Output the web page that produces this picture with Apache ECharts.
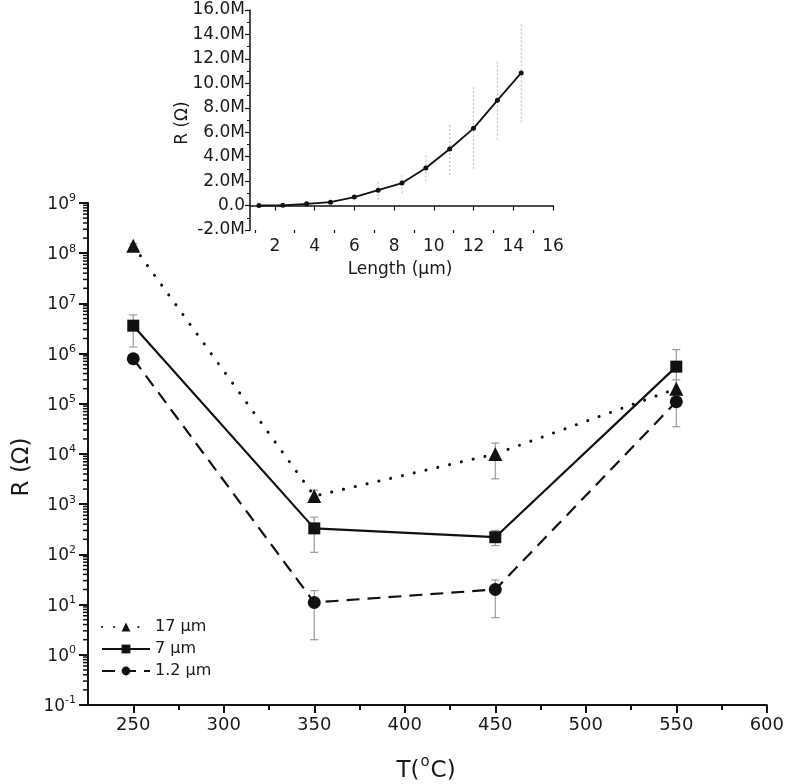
<!DOCTYPE html>
<html>
<head>
<meta charset="utf-8">
<script src="https://cdn.jsdelivr.net/npm/echarts@6/dist/echarts.min.js"></script>
<style>html,body{margin:0;padding:0;background:#fff}#c{width:787px;height:784px}</style>
</head>
<body>
<div id="c"></div>
<script>
// ---------- main chart data ----------
const temps = [250, 350, 450, 550];
const r17 = [1.4e8, 1.45e3, 1.0e4, 2.0e5];
const r7 = [3.6e6, 330, 220, 5.5e5];
const r12 = [7.9e5, 11, 20, 1.1e5];
const err17Low = [1.25e8, 1.1e3, 3.2e3, 1.0e5];
const err17High = [1.55e8, 1.9e3, 1.65e4, 3.0e5];
const err7Low = [1.35e6, 110, 150, 1.5e5];
const err7High = [5.9e6, 550, 300, 1.2e6];
const err12Low = [7.0e5, 2, 5.5, 3.5e4];
const err12High = [9.0e5, 19, 31, 1.8e5];
const seriesNames = ['17 µm', '7 µm', '1.2 µm'];
const xMajorTicks = [250, 300, 350, 400, 450, 500, 550, 600];
const xMinorTicks = [275, 325, 375, 425, 475, 525, 575];

// ---------- inset data ----------
const lengths = [1.2, 2.4, 3.6, 4.8, 6.0, 7.2, 8.4, 9.6, 10.8, 12.0, 13.2, 14.4];
const rInset = [0.005e6, 0.02e6, 0.14e6, 0.28e6, 0.69e6, 1.26e6, 1.84e6, 3.07e6, 4.63e6, 6.32e6, 8.61e6, 10.85e6];
const insetErrLow = [0, 0, 0.1e6, 0.2e6, 0.5e6, 0.47e6, 1.0e6, 1.96e6, 2.5e6, 2.98e6, 5.4e6, 6.8e6];
const insetErrHigh = [0.01e6, 0.04e6, 0.18e6, 0.36e6, 0.9e6, 1.96e6, 2.65e6, 4.15e6, 6.6e6, 9.7e6, 11.9e6, 14.9e6];
const insetXMajor = [2, 4, 6, 8, 10, 12, 14, 16];
const insetXMinor = [1, 3, 5, 7, 9, 11, 13, 15];

const FONT = 'DejaVu Sans';
const zip = (xs, ys) => xs.map((x, i) => [x, ys[i]]);
const zip3 = (xs, a, b) => xs.map((x, i) => [x, a[i], b[i]]);

// minor log ticks positions (2..9 x 10^n)
const logMinor = [];
for (let n = -1; n < 9; n++) for (let k = 2; k <= 9; k++) logMinor.push([225, k * Math.pow(10, n)]);

function errRender(color, dash, cap) {
  return function (params, api) {
    const x = api.value(0);
    const lo = api.coord([x, api.value(1)]);
    const hi = api.coord([x, api.value(2)]);
    const st = {stroke: color, lineWidth: 1.2, lineDash: dash};
    const children = [{type: 'line', shape: {x1: lo[0], y1: lo[1], x2: hi[0], y2: hi[1]}, style: st}];
    if (cap > 0) {
      children.push({type: 'line', shape: {x1: lo[0] - cap, y1: lo[1], x2: lo[0] + cap, y2: lo[1]}, style: {stroke: color, lineWidth: 1.2}});
      children.push({type: 'line', shape: {x1: hi[0] - cap, y1: hi[1], x2: hi[0] + cap, y2: hi[1]}, style: {stroke: color, lineWidth: 1.2}});
    }
    return {type: 'group', children: children};
  };
}

const chart = echarts.init(document.getElementById('c'));
const axisColor = '#111';
chart.setOption({
  animation: false,
  backgroundColor: '#fff',
  textStyle: {fontFamily: FONT},
  grid: [
    {left: 88, top: 203, width: 680, height: 502},
    {left: 250, top: 10, width: 303, height: 220}
  ],
  xAxis: [
    {gridIndex: 0, type: 'value', min: 225, max: 600, position: 'bottom',
      axisLine: {lineStyle: {color: axisColor, width: 2}},
      axisTick: {customValues: xMajorTicks, length: 8, lineStyle: {color: axisColor, width: 2}},
      axisLabel: {customValues: xMajorTicks, fontSize: 18, color: '#1a1a1a', margin: 11, fontFamily: FONT},
      splitLine: {show: false}},
    {gridIndex: 0, type: 'value', min: 225, max: 600, position: 'bottom',
      axisLine: {show: false},
      axisTick: {customValues: xMinorTicks, length: 5, lineStyle: {color: axisColor, width: 2}},
      axisLabel: {show: false}, splitLine: {show: false}},
    {gridIndex: 1, type: 'value', min: 0.75, max: 16, position: 'bottom',
      axisLine: {lineStyle: {color: axisColor, width: 1.5}},
      axisTick: {customValues: insetXMajor, length: 5, lineStyle: {color: axisColor, width: 1.2}},
      axisLabel: {customValues: insetXMajor, fontSize: 17, color: '#1a1a1a', margin: 8, fontFamily: FONT},
      splitLine: {show: false}},
    {gridIndex: 1, type: 'value', min: 0.75, max: 16, position: 'bottom',
      axisLine: {show: false},
      axisTick: {customValues: insetXMinor, length: 3, lineStyle: {color: axisColor, width: 1.2}},
      axisLabel: {show: false}, splitLine: {show: false}}
  ],
  yAxis: [
    {gridIndex: 0, type: 'log', logBase: 10, min: 0.1, max: 1e9, splitNumber: 10,
      axisLine: {show: true, lineStyle: {color: axisColor, width: 2}},
      axisTick: {show: true, length: 9, lineStyle: {color: axisColor, width: 2}},
      axisLabel: {margin: 12, color: '#1a1a1a',
        formatter: function (v) { const e = Math.round(Math.log10(v)); return '{b|10}{s|' + e + '}'; },
        rich: {b: {fontSize: 17, fontFamily: FONT, color: '#1a1a1a', verticalAlign: 'bottom'},
               s: {fontSize: 11, fontFamily: FONT, color: '#1a1a1a', verticalAlign: 'bottom', padding: [0, 0, 9, 0]}}},
      splitLine: {show: false}},
    {gridIndex: 1, type: 'value', min: -2e6, max: 16e6, interval: 2e6,
      axisLine: {show: true, lineStyle: {color: axisColor, width: 1.5}},
      axisTick: {show: true, length: 5, lineStyle: {color: axisColor, width: 1.2}},
      minorTick: {show: true, splitNumber: 2, length: 3, lineStyle: {color: axisColor, width: 1}},
      axisLabel: {fontSize: 17, color: '#1a1a1a', margin: 5, fontFamily: FONT,
        formatter: function (v) { return v === 0 ? '0.0' : (v / 1e6).toFixed(1) + 'M'; }},
      splitLine: {show: false}}
  ],
  legend: {
    data: seriesNames, orient: 'vertical', left: 96, top: 614,
    itemWidth: 48, itemHeight: 11, itemGap: 6,
    textStyle: {fontSize: 16, color: '#1a1a1a', fontFamily: FONT}
  },
  graphic: [
    {type: 'text', x: 22, y: 467, rotation: Math.PI / 2, style: {text: 'R (Ω)', font: '23px "DejaVu Sans"', fill: '#1a1a1a', align: 'center', verticalAlign: 'middle'}},
    {type: 'text', x: 426, y: 769, style: {text: '{a|T(}{s|o}{a|C)}', align: 'center', verticalAlign: 'middle',
      rich: {a: {fontSize: 23, fontFamily: FONT, fill: '#1a1a1a', verticalAlign: 'bottom', lineHeight: 28},
             s: {fontSize: 15, fontFamily: FONT, fill: '#1a1a1a', verticalAlign: 'top', lineHeight: 15, padding: [0, 1, 0, 1]}}}},
    {type: 'text', x: 183, y: 123, rotation: Math.PI / 2, style: {text: 'R (Ω)', font: '17px "DejaVu Sans"', fill: '#1a1a1a', align: 'center', verticalAlign: 'middle'}},
    {type: 'text', x: 400, y: 270, style: {text: 'Length (µm)', font: '17px "DejaVu Sans"', fill: '#1a1a1a', align: 'center', verticalAlign: 'middle'}}
  ],
  series: [
    // minor log ticks on main y axis
    {type: 'custom', xAxisIndex: 0, yAxisIndex: 0, clip: false, silent: true, z: 5,
      data: logMinor,
      renderItem: function (params, api) {
        const p = api.coord([api.value(0), api.value(1)]);
        return {type: 'line', shape: {x1: p[0] - 5, y1: p[1], x2: p[0], y2: p[1]}, style: {stroke: axisColor, lineWidth: 1.5}};
      }},
    // error bars main
    {type: 'custom', xAxisIndex: 0, yAxisIndex: 0, silent: true, z: 1, data: zip3(temps, err17Low, err17High), renderItem: errRender('#9a9a9a', null, 4)},
    {type: 'custom', xAxisIndex: 0, yAxisIndex: 0, silent: true, z: 1, data: zip3(temps, err7Low, err7High), renderItem: errRender('#9a9a9a', null, 4)},
    {type: 'custom', xAxisIndex: 0, yAxisIndex: 0, silent: true, z: 1, data: zip3(temps, err12Low, err12High), renderItem: errRender('#9a9a9a', null, 4)},
    {name: seriesNames[0], type: 'line', xAxisIndex: 0, yAxisIndex: 0, data: zip(temps, r17), z: 3,
      symbol: 'triangle', symbolSize: 14, itemStyle: {color: '#111'},
      lineStyle: {color: '#111', width: 3, type: [0.1, 12], cap: 'round'}},
    {name: seriesNames[1], type: 'line', xAxisIndex: 0, yAxisIndex: 0, data: zip(temps, r7), z: 3,
      symbol: 'rect', symbolSize: 12, itemStyle: {color: '#111'},
      lineStyle: {color: '#111', width: 2.2, type: 'solid'}},
    {name: seriesNames[2], type: 'line', xAxisIndex: 0, yAxisIndex: 0, data: zip(temps, r12), z: 3,
      symbol: 'circle', symbolSize: 13, itemStyle: {color: '#111'},
      lineStyle: {color: '#111', width: 2.2, type: [13, 8]}},
    // inset
    {type: 'custom', xAxisIndex: 2, yAxisIndex: 1, silent: true, z: 1, data: zip3(lengths, insetErrLow, insetErrHigh), renderItem: errRender('#c4c4c4', [2, 2], 0)},
    {type: 'line', xAxisIndex: 2, yAxisIndex: 1, data: zip(lengths, rInset), z: 3,
      symbol: 'circle', symbolSize: 5, itemStyle: {color: '#111'},
      lineStyle: {color: '#111', width: 1.8}}
  ]
});
</script>
</body>
</html>
